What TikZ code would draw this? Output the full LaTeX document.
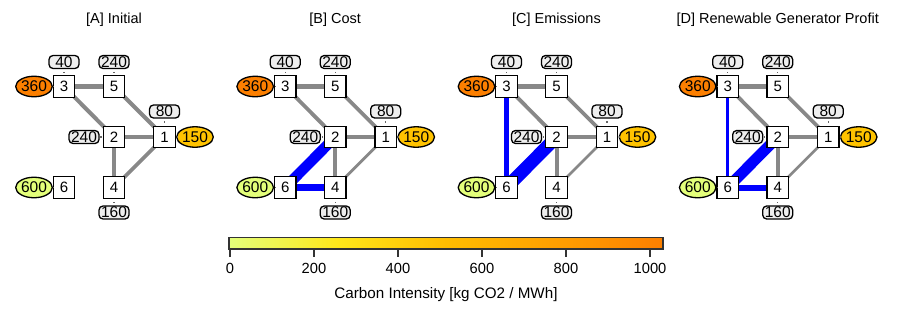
\documentclass[tikz,border=0pt]{standalone}
\usepackage{fontspec}
\setmainfont{Liberation Sans}
\usetikzlibrary{shapes.geometric}
\pgfdeclarelayer{bg}
\pgfsetlayers{bg,main}
\definecolor{w0}{RGB}{228,255,122}
\definecolor{w1}{RGB}{255,232,26}
\definecolor{w2}{RGB}{255,189,0}
\definecolor{w3}{RGB}{255,160,0}
\definecolor{w4}{RGB}{252,127,0}
\definecolor{genmid}{RGB}{255,195,0}
\definecolor{linegray}{RGB}{136,136,136}
\definecolor{labfill}{RGB}{238,238,238}
\definecolor{cbframe}{RGB}{51,51,51}
\pgfdeclarehorizontalshading{wistia}{100bp}{color(0bp)=(w0); color(25bp)=(w0); color(37.5bp)=(w1); color(50bp)=(w2); color(62.5bp)=(w3); color(75bp)=(w4); color(100bp)=(w4)}
\tikzset{
  bus/.style={draw=black, fill=white, line width=1.4pt, minimum width=21.5pt, minimum height=21.5pt, inner sep=0pt, font=\fontsize{15}{15}\selectfont},
  lab/.style={draw=black, fill=labfill, rounded corners=4pt, line width=1.3pt, minimum width=30pt, minimum height=13pt, inner sep=0pt, font=\fontsize{15.5}{15.5}\selectfont},
  gen/.style={ellipse, draw=black, line width=1.3pt, minimum width=32pt, minimum height=20.5pt, inner sep=0pt, font=\fontsize{15.5}{15.5}\selectfont},
  ttl/.style={font=\fontsize{14.5}{16}\selectfont, inner sep=0pt},
  edge/.style={draw=linegray},
  flow/.style={draw=blue},
  stubv/.style={draw=black!60, line width=1.3pt, shorten >=2.6pt, shorten <=2.6pt},
  stubh/.style={draw=black!60, line width=1.3pt, shorten >=0.8pt, shorten <=0.8pt},
  ticklab/.style={font=\fontsize{14.7}{15}\selectfont, inner sep=0pt},
}
\newcommand{\gridpanel}[3]{%
  \begin{scope}[shift={(#2,0)}]
    \node[ttl] (#1t) at (114,20) {#3};
    \node[bus] (#13) at (64,86.5) {3};
    \node[bus] (#15) at (114,86.5) {5};
    \node[bus] (#12) at (114,137) {2};
    \node[bus] (#11) at (164.5,137) {1};
    \node[bus] (#14) at (114,187.5) {4};
    \node[bus] (#16) at (64,187.5) {6};
    \node[gen, fill=w4] (#1g3) at (34,86.5) {360};
    \node[gen, fill=genmid] (#1g1) at (195,137) {150};
    \node[gen, fill=w0] (#1g6) at (34,187.5) {600};
    \node[lab] (#1l3) at (64,62) {40};
    \node[lab] (#1l5) at (114,62) {240};
    \node[lab] (#1l1) at (164.5,111.5) {80};
    \node[lab] (#1l2) at (84,137) {240};
    \node[lab] (#1l4) at (114,212.5) {160};
    \draw[stubh] (#1g3) -- (#13);
    \draw[stubh] (#1g1) -- (#11);
    \draw[stubh] (#1g6) -- (#16);
    \draw[stubv] (#1l3) -- (#13);
    \draw[stubv] (#1l5) -- (#15);
    \draw[stubv] (#1l1) -- (#11);
    \draw[stubh] (#1l2) -- (#12);
    \draw[stubv] (#1l4) -- (#14);
  \end{scope}}
\begin{document}
\begin{tikzpicture}[x=1pt, y=-1pt]
\useasboundingbox (0,0) rectangle (899,316);
\gridpanel{a}{0}{[A] Initial}
\gridpanel{b}{221.2}{[B] Cost}
\gridpanel{c}{442.5}{[C] Emissions}
\gridpanel{d}{663.7}{[D] Renewable Generator Profit}
\begin{pgfonlayer}{bg}
  % panel A
  \draw[edge, line width=5pt] (a3.center) -- (a5.center);
  \draw[edge, line width=4pt] (a3.center) -- (a2.center);
  \draw[edge, line width=4pt] (a5.center) -- (a1.center);
  \draw[edge, line width=4.7pt] (a2.center) -- (a1.center);
  \draw[edge, line width=4.3pt] (a2.center) -- (a4.center);
  \draw[edge, line width=3.8pt] (a1.center) -- (a4.center);
  % panel B
  \draw[edge, line width=4.4pt] (b3.center) -- (b5.center);
  \draw[edge, line width=3.8pt] (b3.center) -- (b2.center);
  \draw[edge, line width=3.8pt] (b5.center) -- (b1.center);
  \draw[edge, line width=4pt] (b2.center) -- (b1.center);
  \draw[edge, line width=3.8pt] (b2.center) -- (b4.center);
  \draw[edge, line width=2.8pt] (b1.center) -- (b4.center);
  \draw[flow, line width=10.5pt] (b6.center) -- (b2.center);
  \draw[flow, line width=6.5pt] (b6.center) -- (b4.center);
  % panel C
  \draw[edge, line width=4.4pt] (c3.center) -- (c5.center);
  \draw[edge, line width=3.8pt] (c3.center) -- (c2.center);
  \draw[edge, line width=3.8pt] (c5.center) -- (c1.center);
  \draw[edge, line width=4.4pt] (c2.center) -- (c1.center);
  \draw[edge, line width=4pt] (c2.center) -- (c4.center);
  \draw[edge, line width=2.6pt] (c1.center) -- (c4.center);
  \draw[flow, line width=4.2pt] (c3.center) -- (c6.center);
  \draw[flow, line width=13pt] (c6.center) -- (c2.center);
  % panel D
  \draw[edge, line width=4.4pt] (d3.center) -- (d5.center);
  \draw[edge, line width=3.8pt] (d3.center) -- (d2.center);
  \draw[edge, line width=3.8pt] (d5.center) -- (d1.center);
  \draw[edge, line width=4pt] (d2.center) -- (d1.center);
  \draw[edge, line width=4pt] (d2.center) -- (d4.center);
  \draw[edge, line width=2.6pt] (d1.center) -- (d4.center);
  \draw[flow, line width=3.3pt] (d3.center) -- (d6.center);
  \draw[flow, line width=11pt] (d6.center) -- (d2.center);
  \draw[flow, line width=6pt] (d6.center) -- (d4.center);
\end{pgfonlayer}
% colorbar
\fill[shading=wistia] (229.3,237.5) rectangle (663,248.7);
\draw[cbframe, line width=1.8pt] (229.3,237.5) rectangle (663,248.7);
\foreach \v [count=\i] in {0,200,400,600,800,1000} {
  \draw[cbframe, line width=1.3pt] ({230+0.42*\v},248.7) -- ({230+0.42*\v},257);
  \node[ticklab] (cb\i) at ({230+0.42*\v},268) {\v};
}
\node[font=\fontsize{15.2}{16}\selectfont, inner sep=0pt] (cblabel) at (446,295) {Carbon Intensity [kg CO2 / MWh]};
\end{tikzpicture}
\end{document}
